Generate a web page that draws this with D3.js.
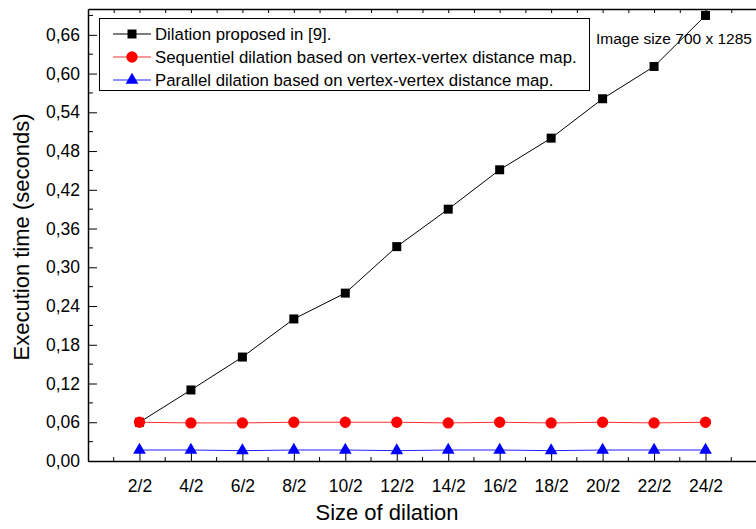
<!DOCTYPE html>
<html>
<head>
<meta charset="utf-8">
<script src="https://cdn.jsdelivr.net/npm/d3@7"></script>
<style>
  body { margin: 0; background: #fff; }
  text { font-family: Arial, "Liberation Sans", sans-serif; }
</style>
</head>
<body>
<div id="chart"></div>
<script>

var sizes = [2, 4, 6, 8, 10, 12, 14, 16, 18, 20, 22, 24]
var sizeLabels = ['2/2', '4/2', '6/2', '8/2', '10/2', '12/2', '14/2', '16/2', '18/2', '20/2', '22/2', '24/2']

var proposed   = [0.060, 0.110, 0.161, 0.220, 0.260, 0.332, 0.390, 0.451, 0.500, 0.561, 0.611, 0.690]
var sequential = [0.060, 0.059, 0.059, 0.060, 0.060, 0.060, 0.059, 0.060, 0.059, 0.060, 0.059, 0.060]
var parallel   = [0.017, 0.017, 0.016, 0.017, 0.017, 0.016, 0.017, 0.017, 0.016, 0.017, 0.017, 0.017]

var yTicks = [0, 0.06, 0.12, 0.18, 0.24, 0.30, 0.36, 0.42, 0.48, 0.54, 0.60, 0.66]

var seriesNames = ['Dilation proposed in [9].',
                   'Sequentiel dilation based on vertex-vertex distance map.',
                   'Parallel dilation based on vertex-vertex distance map.']

var W = 756, H = 529
var margin = {top: 9, left: 88, bottom: 68}

var svg = d3.select("#chart").append("svg")
    .attr("width", W)
    .attr("height", H)

var x = d3.scaleLinear().domain([0, 26]).range([margin.left, margin.left + 26 * 25.73])
var y = d3.scaleLinear().domain([0, 0.70]).range([H - margin.bottom, margin.top])

var fmt = function(d) { return d3.format(".2f")(d).replace(".", ",") }

// minor ticks
var xMinor = d3.range(1, 26, 2)
var yMinor = d3.range(0.03, 0.70, 0.06)

// bottom axis
var bottomAxis = svg.append("g").attr("transform", "translate(0," + y(0) + ")")
bottomAxis.call(d3.axisBottom(x).tickValues(sizes).tickSize(-8).tickSizeOuter(0)
    .tickFormat(function(d, i) { return sizeLabels[i] }))
bottomAxis.selectAll(".tick text").attr("y", 19).style("font-size", "17.5px").attr("fill", "#000")
bottomAxis.append("g").selectAll("line").data(xMinor).enter().append("line")
    .attr("x1", d => x(d)).attr("x2", d => x(d)).attr("y1", 0).attr("y2", -4)
    .attr("stroke", "#000")

// top axis
var topAxis = svg.append("g").attr("transform", "translate(0," + y(0.70) + ")")
topAxis.call(d3.axisTop(x).tickValues(sizes.concat(xMinor)).tickSize(-4).tickSizeOuter(0).tickFormat(""))

// left axis
var leftAxis = svg.append("g").attr("transform", "translate(" + margin.left + ",0)")
leftAxis.call(d3.axisLeft(y).tickValues(yTicks).tickSize(-9).tickSizeOuter(0).tickFormat(fmt))
leftAxis.selectAll(".tick text").attr("x", -8).style("font-size", "17.5px").attr("fill", "#000")
leftAxis.append("g").selectAll("line").data(yMinor).enter().append("line")
    .attr("x1", 0).attr("x2", 5).attr("y1", d => y(d)).attr("y2", d => y(d))
    .attr("stroke", "#000")

svg.selectAll(".domain").attr("stroke", "#000").attr("stroke-width", 1.5)

// axis titles
svg.append("text")
    .attr("transform", "translate(29,237) rotate(-90)")
    .attr("text-anchor", "middle")
    .style("font-size", "22px")
    .text("Execution time (seconds)")

svg.append("text")
    .attr("x", 387).attr("y", 520)
    .attr("text-anchor", "middle")
    .style("font-size", "22px")
    .text("Size of dilation")

svg.append("text")
    .attr("x", 596).attr("y", 44)
    .style("font-size", "15.5px")
    .text("Image size 700 x 1285")

// series
var series = [
  {values: proposed, color: "#000", line: "#000", shape: d3.symbolSquare, size: 81},
  {values: sequential, color: "#ff0000", line: "#ff3030", shape: d3.symbolCircle, size: 100},
  {values: parallel, color: "#0000ff", line: "#2020ff", shape: d3.symbolTriangle, size: 70}
]

var line = d3.line().x((d, i) => x(sizes[i])).y(d => y(d))

series.forEach(function(s) {
  svg.append("path")
    .attr("d", line(s.values))
    .attr("fill", "none")
    .attr("stroke", s.line)
    .attr("stroke-width", 1)
})

series.forEach(function(s) {
  svg.append("g").selectAll("path").data(s.values).enter().append("path")
    .attr("d", d3.symbol().type(s.shape).size(s.size))
    .attr("transform", (d, i) => "translate(" + x(sizes[i]) + "," + y(d) + ")")
    .attr("fill", s.color)
})

// legend
var legend = svg.append("g")
legend.append("rect")
    .attr("x", 99.5).attr("y", 18.5).attr("width", 490).attr("height", 72)
    .attr("fill", "#fff").attr("stroke", "#000").attr("stroke-width", 1)

series.forEach(function(s, i) {
  var ly = 34 + i * 23
  legend.append("line")
    .attr("x1", 113).attr("x2", 151).attr("y1", ly).attr("y2", ly)
    .attr("stroke", s.line)
  legend.append("path")
    .attr("d", d3.symbol().type(s.shape).size(s.size))
    .attr("transform", "translate(132," + ly + ")")
    .attr("fill", s.color)
  legend.append("text")
    .attr("x", 155).attr("y", ly + 6)
    .style("font-size", "16.8px")
    .text(seriesNames[i])
})

</script>
</body>
</html>
